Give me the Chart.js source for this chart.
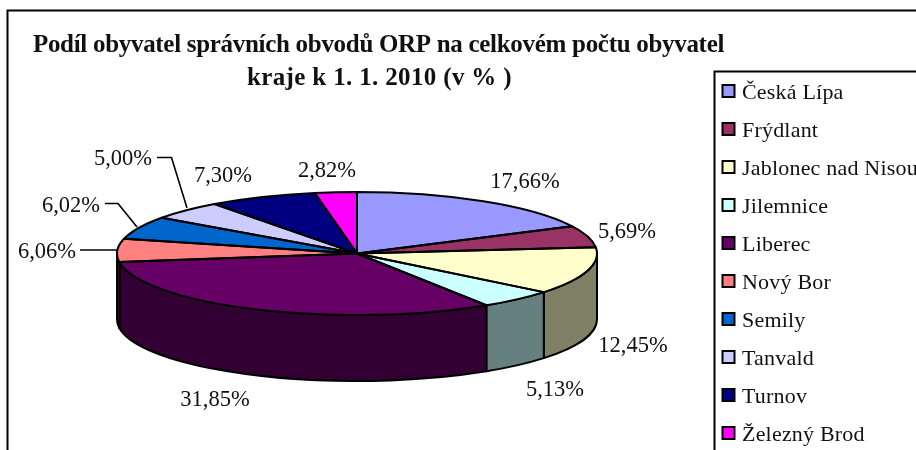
<!DOCTYPE html>
<html><head><meta charset="utf-8">
<script src="https://cdn.jsdelivr.net/npm/chart.js@4"></script>
<style>html,body{margin:0;padding:0;background:#fff;overflow:hidden}canvas{display:block}</style>
</head><body><canvas id="c" width="916" height="450"></canvas>
<script>
const categories = ["Česká Lípa","Frýdlant","Jablonec nad Nisou","Jilemnice","Liberec","Nový Bor","Semily","Tanvald","Turnov","Železný Brod"];
const shares = [17.66,5.69,12.45,5.13,31.85,6.06,6.02,5.00,7.30,2.82];
const shareLabels = ["17,66%","5,69%","12,45%","5,13%","31,85%","6,06%","6,02%","5,00%","7,30%","2,82%"];
const colors = ["#9999FF","#993366","#FFFFCC","#CCFFFF","#660066","#FF8080","#0066CC","#CCCCFF","#000080","#FF00FF"];
const wallColors = ["#4D4D80","#4D1A33","#808066","#668080","#330033","#804040","#003366","#666680","#000040","#800080"];
const titleLines = ["Podíl obyvatel správních obvodů ORP na celkovém počtu obyvatel","kraje k 1. 1. 2010 (v % )"];

const SERIF = '"Liberation Serif","Times New Roman",serif';
const pie3d = {
  id:'pie3d',
  beforeDraw(chart){
    const ctx=chart.ctx;
    ctx.save();
    ctx.strokeStyle='#000';ctx.lineWidth=2;
    ctx.beginPath();ctx.moveTo(7.5,450);ctx.lineTo(7.5,10.5);ctx.lineTo(916,10.5);ctx.stroke();
    ctx.fillStyle='#111';ctx.textBaseline='alphabetic';ctx.textAlign='center';
    ctx.font='bold 25px '+SERIF;
    ctx.letterSpacing='-0.3px';
    ctx.fillText(titleLines[0],378.5,52);
    ctx.letterSpacing='0.35px';
    ctx.fillText(titleLines[1],379.5,85);
    ctx.restore();
  },
  beforeDatasetsDraw(chart){
    const ctx=chart.ctx, arcs=chart.getDatasetMeta(0).data;
    const R=arcs[0].outerRadius, cx=arcs[0].x, cy=arcs[0].y, ry=61.5, depth=66;
    ctx.save();
    ctx.lineWidth=2;ctx.strokeStyle='#000';ctx.lineJoin='round';
    // side wall
    arcs.forEach((a,i)=>{
      const s=Math.max(a.startAngle,0), e=Math.min(a.endAngle,Math.PI);
      if(e<=s) return;
      ctx.beginPath();
      ctx.ellipse(cx,cy,R,ry,0,s,e);
      ctx.lineTo(cx+R*Math.cos(e),cy+ry*Math.sin(e)+depth);
      ctx.ellipse(cx,cy+depth,R,ry,0,e,s,true);
      ctx.closePath();
      ctx.fillStyle=wallColors[i];ctx.fill();ctx.stroke();
    });
    // top face, filled by the library's own arc elements
    ctx.save();
    ctx.translate(cx,cy);ctx.scale(1,ry/R);ctx.translate(-cx,-cy);
    arcs.forEach(a=>a.draw(ctx));
    ctx.restore();
    arcs.forEach(a=>{
      ctx.beginPath();ctx.moveTo(cx,cy);
      ctx.ellipse(cx,cy,R,ry,0,a.startAngle,a.endAngle);
      ctx.closePath();ctx.stroke();
    });
    ctx.restore();
    return false;
  },
  afterDraw(chart){
    const ctx=chart.ctx;
    ctx.save();
    // value labels
    const spots=[[525,188],[627,238],[633,352],[555,396],[215,406],[47,258],[71,212],[123,165],[223,182],[327,177]];
    ctx.font='22.5px '+SERIF;ctx.fillStyle='#111';ctx.textAlign='center';ctx.textBaseline='alphabetic';
    shareLabels.forEach((t,i)=>ctx.fillText(t,spots[i][0],spots[i][1]));
    // leader lines
    ctx.strokeStyle='#000';ctx.lineWidth=1.6;
    [[[80,250],[117,250]],[[105,203.5],[118,203.5],[137,227]],[[157,157.5],[171.5,157.5],[187,208]]].forEach(p=>{
      ctx.beginPath();p.forEach((q,j)=>j?ctx.lineTo(q[0],q[1]):ctx.moveTo(q[0],q[1]));ctx.stroke();
    });
    // legend
    ctx.lineWidth=2;
    ctx.beginPath();ctx.moveTo(714.5,450);ctx.lineTo(714.5,71.5);ctx.lineTo(916,71.5);ctx.stroke();
    ctx.textAlign='left';
    ctx.font='22px '+SERIF;
    ctx.letterSpacing='0.2px';
    categories.forEach((name,i)=>{
      const y=91+i*38;
      ctx.fillStyle=colors[i];ctx.fillRect(722.5,y-6,12,12);
      ctx.strokeRect(722.5,y-6,12,12);
      ctx.fillStyle='#111';ctx.fillText(name,742,y+8);
    });
    ctx.restore();
  }
};
new Chart(document.getElementById('c'),{
  type:'pie',
  data:{labels:categories,datasets:[{data:shares,backgroundColor:colors,borderWidth:0}]},
  options:{
    responsive:false,animation:false,radius:240,rotation:0,
    layout:{padding:{left:0,right:202,top:57,bottom:0}},
    plugins:{legend:{display:false},tooltip:{enabled:false},title:{display:false}}
  },
  plugins:[pie3d]
});
</script></body></html>
